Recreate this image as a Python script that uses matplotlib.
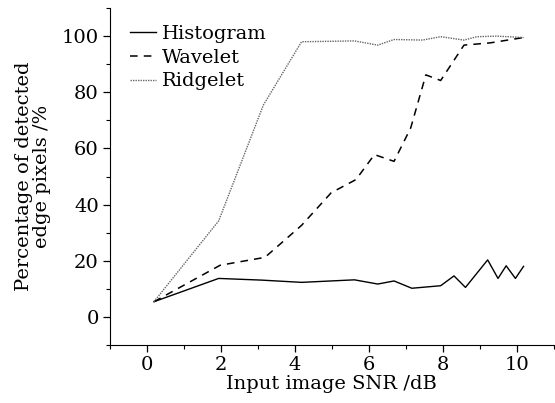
import numpy as np
import matplotlib.pyplot as plt
from matplotlib.ticker import MultipleLocator

plt.rcParams['font.family'] = ['DejaVu Serif']

x_hist = [0.19, 1.94, 3.1, 4.18, 5.61, 6.24, 6.68, 7.16, 7.94, 8.3, 8.61, 9.21, 9.49, 9.71, 9.96, 10.18]
y_hist = [5.4, 13.7, 13.1, 12.3, 13.2, 11.7, 12.8, 10.2, 11.1, 14.6, 10.5, 20.3, 13.7, 18.2, 13.7, 18.0]

x_wave = [0.19, 1.98, 3.19, 4.18, 4.98, 5.65, 6.15, 6.68, 7.13, 7.54, 7.94, 8.57, 9.28, 10.18]
y_wave = [5.4, 18.4, 21.2, 32.6, 44.2, 48.9, 57.8, 55.4, 67.3, 86.2, 84.2, 96.8, 97.6, 99.5]

x_ridge = [0.19, 1.94, 3.15, 4.18, 5.61, 6.24, 6.68, 7.45, 7.94, 8.57, 8.92, 9.46, 10.18]
y_ridge = [5.4, 34.2, 75.5, 98.0, 98.3, 96.8, 98.8, 98.6, 99.8, 98.6, 99.8, 100.0, 99.5]

fig = plt.figure(figsize=(5.55, 4.03), dpi=100)
ax = fig.add_axes([0.198, 0.144, 0.80, 0.836])

ax.plot(x_hist, y_hist, color="black", lw=1.0, label="Histogram")
ax.plot(x_wave, y_wave, color="black", lw=1.1, ls=(0, (5, 4)), label="Wavelet")
ax.plot(x_ridge, y_ridge, color="#666666", lw=1.0, ls=(0, (1, 0.8)), label="Ridgelet")

ax.set_xlim(-1, 11)
ax.set_ylim(-10, 110)
ax.xaxis.set_major_locator(MultipleLocator(2))
ax.xaxis.set_minor_locator(MultipleLocator(1))
ax.yaxis.set_major_locator(MultipleLocator(20))
ax.yaxis.set_minor_locator(MultipleLocator(10))
ax.tick_params(which="major", direction="out", length=5, width=0.9, labelsize=14, pad=3)
ax.tick_params(which="minor", direction="out", length=3, width=0.8)

ax.spines["top"].set_visible(False)
ax.spines["right"].set_visible(False)

ax.set_xlabel("Input image SNR /dB", fontsize=14, labelpad=1)
ax.set_ylabel("Percentage of detected\nedge pixels /%", fontsize=14, labelpad=8, linespacing=1.0)

ax.legend(loc="upper left", frameon=False, fontsize=14, handlelength=1.3,
          handletextpad=0.3, labelspacing=0.3, borderaxespad=0.2,
          bbox_to_anchor=(0.02, 0.985))

fig.savefig("out.png", dpi=100)
